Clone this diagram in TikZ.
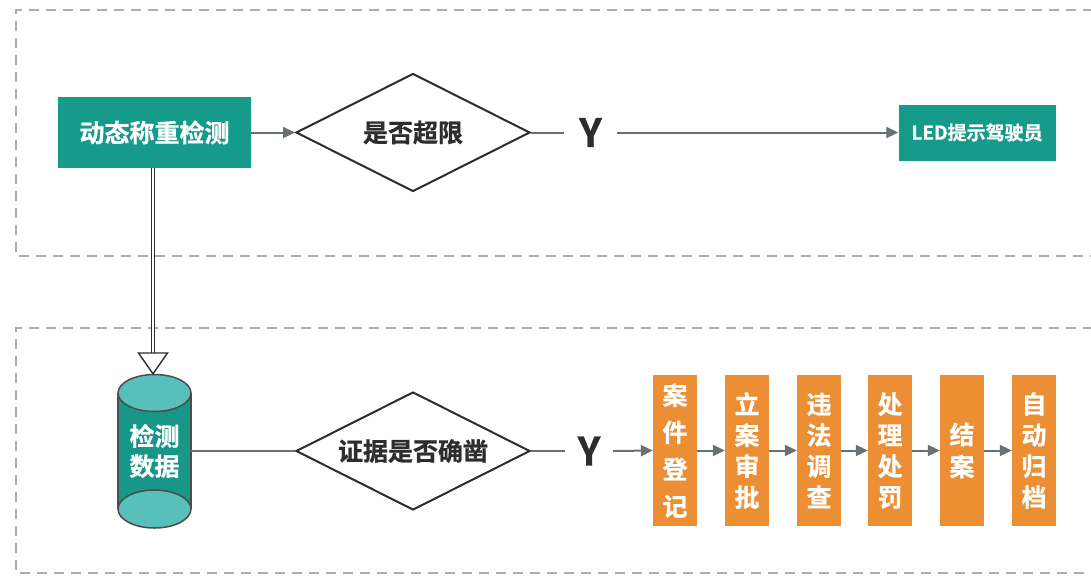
\documentclass[tikz,border=0pt]{standalone}
\usepackage{fontspec}
\newfontfamily\cjk{Noto Sans CJK SC}[BoldFont={Noto Sans CJK SC Bold},BoldFeatures={FakeBold=0.8}]
\usetikzlibrary{arrows.meta,shapes.geometric}
\definecolor{tealbox}{RGB}{22,154,138}
\definecolor{tealbody}{RGB}{24,150,136}
\definecolor{tealend}{RGB}{88,192,186}
\definecolor{orangebox}{RGB}{236,142,52}
\definecolor{dashgray}{RGB}{172,172,172}
\definecolor{arrowgray}{RGB}{104,112,116}
\definecolor{darkline}{RGB}{45,45,45}
\begin{document}
\begin{tikzpicture}[x=1pt,y=-1pt,
  panel/.style={draw=dashgray,line width=1.5pt,dash pattern=on 10pt off 7pt},
  tealnode/.style={fill=tealbox,text=white,inner sep=0pt,font=\cjk\bfseries\fontsize{25}{30}\selectfont},
  decision/.style={diamond,draw=darkline,line width=2pt,fill=white,minimum width=234pt,minimum height=118pt,inner sep=0pt,aspect=2,text=darkline,font=\cjk\bfseries\fontsize{25}{30}\selectfont},
  ylab/.style={inner sep=0pt,text=darkline,font=\cjk\bfseries\fontsize{39}{39}\selectfont},
  obox/.style={fill=orangebox,text=white,minimum width=44pt,minimum height=151pt,inner sep=0pt,align=center,font=\cjk\bfseries\fontsize{25}{31}\selectfont},
  conn/.style={draw=arrowgray,line width=2pt},
  arr/.style={conn,-{Triangle[length=12pt,width=11pt]}},
  dbl/.style={draw=darkline,line width=1.1pt,double=white,double distance=2.4pt}
]
\useasboundingbox (0,0) rectangle (1091,576);
\fill[white] (0,0) rectangle (1091,576);

% panels
\draw[panel] (1110,10) -- (16,10) -- (16,256) -- (1110,256);
\draw[panel] (1110,328) -- (16,328) -- (16,573) -- (1110,573);

% top row
\node[tealnode,minimum width=193pt,minimum height=71pt] (det) at (154.5,132.5) {动态称重检测};
\node[decision] (d1) at (413,132.5) {是否超限};
\node[ylab,minimum width=53pt] (y1) at (590.5,132.5) {Y};
\node[tealnode,minimum width=157pt,minimum height=56pt,font=\cjk\bfseries\fontsize{19}{22}\selectfont] (led) at (977,132.5) {LED提示驾驶员};
\draw[arr] (det.east) -- (d1.west);
\draw[conn] (d1.east) -- (y1.west);
\draw[arr] (y1.east) -- (led.west);

% cylinder
\fill[tealbody] (118,393) rectangle (191,509);
\draw[darkline!85,line width=1.5pt] (118,393) -- (118,509) (191,393) -- (191,509);
\filldraw[fill=tealend,draw=darkline!85,line width=1.5pt] (154.5,509) ellipse [x radius=36.5pt,y radius=19pt];
\filldraw[fill=tealend,draw=darkline!85,line width=1.5pt] (154.5,393) ellipse [x radius=36.5pt,y radius=18.5pt];
\node[inner sep=0pt,minimum width=73pt,minimum height=154pt,align=center,text=white,font=\cjk\bfseries\fontsize{25}{34}\selectfont] (cyl) at (154.5,451) {\raisebox{-4pt}{检测}\\数据};

% double arrow
\coordinate (ah) at (153,353);
\draw[dbl] (det.south -| ah) -- (ah);
\filldraw[fill=white,draw=darkline,line width=1.4pt,line join=miter] (ah) ++(-14.5,0) -- ++(29,0) -- (cyl.north -| ah) -- cycle;

% bottom row
\node[decision] (d2) at (413,451) {证据是否确凿};
\node[ylab,minimum width=48pt] (y2) at (589,451) {Y};
\draw[conn] (cyl.east) -- (d2.west);
\draw[conn] (d2.east) -- (y2.west);

\node[obox,font=\cjk\bfseries\fontsize{25}{37}\selectfont] (o1) at (675,450.5) {案\\件\\登\\记};
\node[obox] (o2) at (747,450.5) {立\\案\\审\\批};
\node[obox] (o3) at (819,450.5) {违\\法\\调\\查};
\node[obox] (o4) at (890,450.5) {处\\理\\处\\罚};
\node[obox,font=\cjk\bfseries\fontsize{25}{32}\selectfont] (o5) at (962,450.5) {结\\案};
\node[obox] (o6) at (1034,450.5) {自\\动\\归\\档};

\draw[arr] (y2.east) -- (o1.west);
\draw[arr] (o1.east) -- (o2.west);
\draw[arr] (o2.east) -- (o3.west);
\draw[arr] (o3.east) -- (o4.west);
\draw[arr] (o4.east) -- (o5.west);
\draw[arr] (o5.east) -- (o6.west);
\end{tikzpicture}
\end{document}
